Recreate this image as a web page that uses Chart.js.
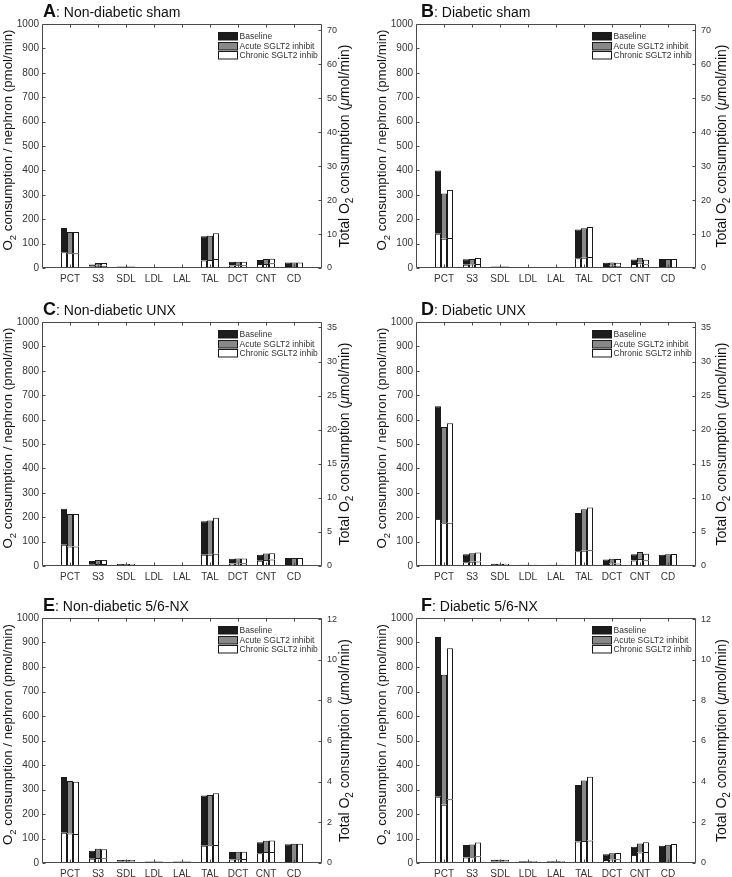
<!DOCTYPE html>
<html>
<head>
<meta charset="utf-8">
<script src="https://cdn.jsdelivr.net/npm/chart.js@4/dist/chart.umd.min.js"></script>
<style>
  body { margin: 0; background: #fff; width: 732px; height: 877px; position: relative; overflow: hidden; }
  .panel { position: absolute; }
</style>
</head>
<body>
<div class="panel" id="pA"><canvas id="cA"></canvas></div>
<div class="panel" id="pB"><canvas id="cB"></canvas></div>
<div class="panel" id="pC"><canvas id="cC"></canvas></div>
<div class="panel" id="pD"><canvas id="cD"></canvas></div>
<div class="panel" id="pE"><canvas id="cE"></canvas></div>
<div class="panel" id="pF"><canvas id="cF"></canvas></div>
<script>
// segments and categories
const categories = ['PCT', 'S3', 'SDL', 'LDL', 'LAL', 'TAL', 'DCT', 'CNT', 'CD'];
const seriesNames = ['Baseline', 'Acute SGLT2 inhibit', 'Chronic SGLT2 inhib'];

// tick labels
const leftTicks = [0, 100, 200, 300, 400, 500, 600, 700, 800, 900, 1000];
const rightTicksShams = [0, 10, 20, 30, 40, 50, 60, 70];
const rightTicksUnx = [0, 5, 10, 15, 20, 25, 30, 35];
const rightTicksNx = [0, 2, 4, 6, 8, 10, 12];
const rightMax = [71.8, 35.8, 12.05];   // total O2 at 1000 pmol/min per nephron

// bar tops (pmol/min) per panel: [baseline, acute, chronic]
const totalA = [
  [164, 14, 6, 3, 3, 130, 26, 33, 23],
  [148, 20, 6, 3, 3, 132, 26, 37, 23],
  [148, 20, 6, 3, 3, 142, 26, 38, 23]
];
// white lower part of each bar
const lowerA = [
  [65, 6, 3, 1, 1.5, 31, 10, 16, 2],
  [60, 9, 3, 1, 1.5, 33, 11, 16, 2],
  [60, 9, 3, 1, 1.5, 37, 11, 19, 2]
];
const totalB = [
  [400, 36, 6, 3, 3, 158, 22, 35, 37],
  [305, 37, 6, 3, 3, 163, 23, 42, 37],
  [320, 41, 6, 3, 3, 168, 22, 34, 37]
];
const lowerB = [
  [140, 13, 3, 1, 1.5, 40, 8, 16, 2],
  [120, 14, 3, 1, 1.5, 42, 9, 22, 2],
  [123, 16, 3, 1, 1.5, 45, 9, 15, 2]
];
const totalC = [
  [235, 20, 8, 4, 4, 183, 30, 46, 33],
  [213, 25, 8, 4, 4, 186, 31, 51, 33],
  [213, 25, 8, 4, 4, 198, 31, 52, 33]
];
const lowerC = [
  [87, 7, 4, 1.5, 2, 46, 10, 22, 2],
  [80, 8, 4, 1.5, 2, 46, 10, 25, 2],
  [80, 8, 4, 1.5, 2, 50, 11, 27, 2]
];
const totalD = [
  [655, 48, 9, 5, 5, 217, 27, 48, 46],
  [570, 52, 9, 5, 5, 233, 30, 57, 48],
  [585, 55, 9, 5, 5, 240, 29, 50, 49]
];
const lowerD = [
  [193, 15, 4, 2, 2, 60, 8, 23, 2],
  [175, 17, 4, 2, 2, 62, 10, 29, 2],
  [177, 18, 4, 2, 2, 65, 10, 24, 2]
];
const totalE = [
  [351, 50, 12, 6, 6, 276, 45, 85, 77],
  [335, 58, 12, 6, 6, 278, 46, 91, 79],
  [332, 56, 12, 6, 6, 285, 46, 92, 79]
];
const lowerE = [
  [123, 17, 6, 3, 3, 70, 14, 40, 2],
  [120, 20, 6, 3, 3, 72, 15, 45, 2],
  [118, 19, 6, 3, 3, 73, 16, 45, 2]
];
const totalF = [
  [922, 73, 13, 7, 7, 318, 36, 66, 70],
  [768, 76, 13, 7, 7, 337, 40, 80, 74],
  [877, 84, 13, 7, 7, 352, 41, 85, 78]
];
const lowerF = [
  [270, 22, 6, 3, 3, 88, 12, 33, 2],
  [238, 23, 6, 3, 3, 90, 14, 43, 2],
  [260, 28, 6, 3, 3, 92, 15, 45, 2]
];

const FONT = '"Liberation Sans", Arial, Helvetica, sans-serif';
const fills = ['#1c1c1c', '#888888', '#ffffff'];
const edge = '#1a1a1a';
const axisCol = '#4a4a4a';
const textCol = '#333333';

const panels = [
  { id: 'A', title: 'Non-diabetic sham', total: totalA, lower: lowerA, row: 0, col: 0, rTicks: rightTicksShams },
  { id: 'B', title: 'Diabetic sham', total: totalB, lower: lowerB, row: 0, col: 1, rTicks: rightTicksShams },
  { id: 'C', title: 'Non-diabetic UNX', total: totalC, lower: lowerC, row: 1, col: 0, rTicks: rightTicksUnx },
  { id: 'D', title: 'Diabetic UNX', total: totalD, lower: lowerD, row: 1, col: 1, rTicks: rightTicksUnx },
  { id: 'E', title: 'Non-diabetic 5/6-NX', total: totalE, lower: lowerE, row: 2, col: 0, rTicks: rightTicksNx },
  { id: 'F', title: 'Diabetic 5/6-NX', total: totalF, lower: lowerF, row: 2, col: 1, rTicks: rightTicksNx }
];

const rowTop = [0, 298, 594];
const rowH = [290, 290, 283];
const rowBottom = [22, 22, 14];
const colLeft = [0, 374];
const colW = [366, 358];
const colRight = [44, 36];
const titleDx = [1, 5];
const rightTitleDx = [23, 26];

// draws text runs along a line; rotated -90deg when vertical
function drawRuns(ctx, runs, x, y, vertical) {
  ctx.save();
  ctx.translate(x, y);
  if (vertical) ctx.rotate(-Math.PI / 2);
  ctx.textBaseline = 'middle';
  ctx.textAlign = 'left';
  let w = 0;
  runs.forEach(r => { ctx.font = r.font; w += ctx.measureText(r.t).width; });
  let pos = -w / 2;
  runs.forEach(r => {
    ctx.font = r.font;
    ctx.fillText(r.t, pos, r.dy || 0);
    pos += ctx.measureText(r.t).width;
  });
  ctx.restore();
}

const decor = {
  id: 'decor',
  afterDraw(chart, args, opts) {
    const { ctx, chartArea: a, scales } = chart;
    ctx.save();
    ctx.strokeStyle = axisCol;
    ctx.lineWidth = 1;
    const L = Math.round(a.left) + 0.5, R = Math.round(a.right) - 0.5;
    const T = Math.round(a.top) + 0.5, B = Math.round(a.bottom) - 0.5;
    ctx.beginPath();
    ctx.rect(L, T, R - L, B - T);
    // inward tick marks
    scales.y.ticks.forEach(t => {
      const py = Math.round(scales.y.getPixelForValue(t.value)) + 0.5;
      ctx.moveTo(L, py); ctx.lineTo(L + 3, py);
    });
    scales.y2.ticks.forEach(t => {
      const py = Math.round(scales.y2.getPixelForValue(t.value)) + 0.5;
      ctx.moveTo(R, py); ctx.lineTo(R - 3, py);
    });
    categories.forEach((c, i) => {
      const px = Math.round(scales.x.getPixelForValue(i + 1)) + 0.5;
      ctx.moveTo(px, T); ctx.lineTo(px, T + 3);
      ctx.moveTo(px, B); ctx.lineTo(px, B - 3);
    });
    ctx.stroke();

    // panel title
    ctx.fillStyle = '#111';
    ctx.textBaseline = 'alphabetic';
    let tx = a.left + opts.dx;
    const ty = a.top - 7;
    ctx.font = 'bold 18px ' + FONT;
    ctx.fillText(opts.letter, tx, ty);
    tx += ctx.measureText(opts.letter).width;
    ctx.font = '14px ' + FONT;
    ctx.fillText(': ' + opts.title, tx, ty);

    // axis titles
    const midY = (a.top + a.bottom) / 2;
    const lbig = '13.3px ' + FONT, lsub = '9.5px ' + FONT;
    drawRuns(ctx, [
      { t: 'O', font: lbig },
      { t: '2', font: lsub, dy: 5 },
      { t: ' consumption / nephron (pmol/min)', font: lbig }
    ], a.left - 34, midY - 6, true);
    const big = '14px ' + FONT, sub = '10px ' + FONT;
    drawRuns(ctx, [
      { t: 'Total O', font: big },
      { t: '2', font: sub, dy: 5 },
      { t: ' consumption (', font: big },
      { t: 'μ', font: 'italic 14px ' + FONT },
      { t: 'mol/min)', font: big }
    ], a.right + opts.rdx, midY, true);

    // legend in upper right
    const lx = Math.round(a.right - 104) + 0.5;
    ctx.font = '8.5px ' + FONT;
    ctx.textBaseline = 'middle';
    seriesNames.forEach((n, i) => {
      const cy = Math.round(a.top + 12 + i * 9.6);
      ctx.fillStyle = fills[i];
      ctx.fillRect(lx, cy - 3.5, 19, 7.5);
      ctx.strokeStyle = edge;
      ctx.strokeRect(lx, cy - 3.5, 19, 7.5);
      ctx.fillStyle = textCol;
      ctx.fillText(n, lx + 21, cy + 0.5);
    });
    ctx.restore();
  }
};

function pad(arr) { return [null, ...arr, null]; }
const plain = v => String(v);

panels.forEach(p => {
  const box = document.getElementById('p' + p.id);
  const w = colW[p.col], h = rowH[p.row];
  box.style.left = colLeft[p.col] + 'px';
  box.style.top = rowTop[p.row] + 'px';
  box.style.width = w + 'px';
  box.style.height = h + 'px';
  const canvas = document.getElementById('c' + p.id);
  canvas.width = w;
  canvas.height = h;

  const datasets = [];
  seriesNames.forEach((name, s) => {
    const low = p.lower[s];
    const up = p.total[s].map((v, i) => v - low[i]);
    datasets.push({
      label: name + ' (lower)', stack: 's' + s, data: pad(low),
      backgroundColor: '#ffffff', borderColor: edge, borderWidth: 1
    });
    datasets.push({
      label: name, stack: 's' + s, data: pad(up),
      backgroundColor: fills[s], borderColor: edge,
      borderWidth: { top: 1, left: 1, right: 1, bottom: 0 }
    });
  });

  new Chart(canvas, {
    type: 'bar',
    data: { labels: ['', ...categories, ''], datasets },
    options: {
      responsive: false,
      animation: false,
      events: [],
      layout: { padding: { top: 24, left: 0, right: 0, bottom: 0 } },
      datasets: {
        bar: { borderSkipped: false, inflateAmount: 0, categoryPercentage: 18 / 28, barPercentage: 1 }
      },
      scales: {
        x: {
          stacked: true,
          offset: false,
          grid: { display: false, drawTicks: false },
          border: { display: false },
          ticks: { color: textCol, font: { family: FONT, size: 10 }, padding: 5, autoSkip: false, maxRotation: 0 },
          afterFit(s) { s.height = rowBottom[p.row]; }
        },
        y: {
          stacked: true,
          min: 0, max: 1000,
          grid: { display: false, drawTicks: false },
          border: { display: false },
          ticks: { color: textCol, font: { family: FONT, size: 10 }, padding: 3, callback: plain },
          afterBuildTicks(s) { s.ticks = leftTicks.map(v => ({ value: v })); },
          afterFit(s) { s.width = 42; }
        },
        y2: {
          display: true,
          position: 'right',
          min: 0, max: rightMax[p.row],
          grid: { display: false, drawTicks: false },
          border: { display: false },
          ticks: { color: textCol, font: { family: FONT, size: 9 }, padding: 5, callback: plain },
          afterBuildTicks(s) { s.ticks = p.rTicks.map(v => ({ value: v })); },
          afterFit(s) { s.width = colRight[p.col]; }
        }
      },
      plugins: {
        legend: { display: false },
        tooltip: { enabled: false },
        decor: { letter: p.id, title: p.title, dx: titleDx[p.col], rdx: rightTitleDx[p.col] }
      }
    },
    plugins: [decor]
  });
});
</script>
</body>
</html>
